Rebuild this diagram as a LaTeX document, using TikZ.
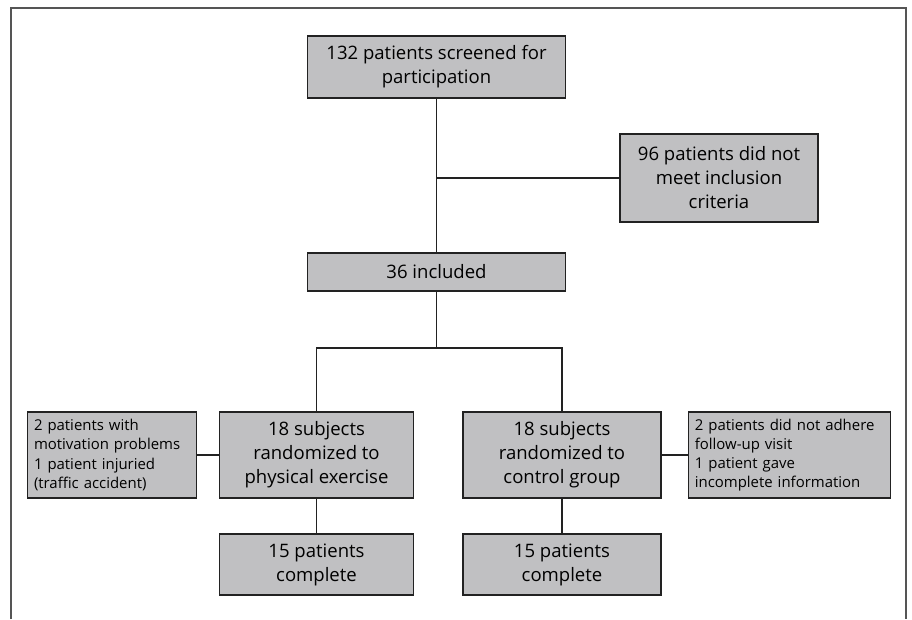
\documentclass[tikz,border=0pt]{standalone}
\usepackage{fontspec}
\setmainfont{Open Sans}
\usetikzlibrary{positioning, calc}
\definecolor{boxfill}{HTML}{C0C0C2}
\definecolor{boxline}{HTML}{222222}
\definecolor{framegray}{HTML}{555555}
\tikzset{
  flowbox/.style={draw=boxline,fill=boxfill,line width=0.9pt,align=center,
    inner sep=0pt,font=\fontsize{13.9}{18}\selectfont},
  notebox/.style={draw=boxline,fill=boxfill,line width=0.9pt,align=left,
    inner sep=0pt,font=\fontsize{11.2}{14.3}\selectfont},
  link/.style={draw=boxline,line width=0.9pt}
}
\begin{document}
\begin{tikzpicture}[x=0.75pt,y=-0.75pt]
\useasboundingbox(0,0)rectangle(912,619);
\draw[framegray,line width=0.8pt](11,619)--(11,8)--(906,8)--(906,619);
% main column
\node[flowbox,minimum width=194pt,minimum height=46.5pt](screen)at(436.5,67){132 patients screened for\\participation};
\node[flowbox,minimum width=148.5pt,minimum height=66pt](excl)at(719,178){96 patients did not\\meet inclusion\\criteria};
\node[flowbox,minimum width=194pt,minimum height=28.5pt](incl)at(436.5,272){36 included};
% two arms
\node[flowbox,minimum width=146pt,minimum height=64.5pt](armA)at(316.5,455){18 subjects\\randomized to\\physical exercise};
\node[flowbox,minimum width=148.5pt,minimum height=64.5pt](armB)at(562,455){18 subjects\\randomized to\\control group};
\node[notebox,minimum height=64.5pt,text width=117pt,inner xsep=5pt](dropA)at(112,455){2 patients with\\motivation problems\\1 patient injuried\\(traffic accident)};
\node[notebox,minimum height=64.5pt,text width=142pt,inner xsep=5pt](dropB)at(789.5,455){2 patients did not adhere\\follow-up visit\\1 patient gave\\incomplete information};
\node[flowbox,minimum width=146pt,minimum height=45.75pt](doneA)at(316.5,564.5){15 patients\\complete};
\node[flowbox,minimum width=148.5pt,minimum height=45.75pt](doneB)at(562,564.5){15 patients\\complete};
% connectors
\coordinate(split)at(436.5,348);
\draw[link](screen.south)--(incl.north);
\draw[link](screen.south|-excl.west)--(excl.west);
\draw[link](incl.south)--(split);
\draw[link](armA.north)|-(split)-|(armB.north);
\draw[link](dropA.east)--(armA.west);
\draw[link](armB.east)--(dropB.west);
\draw[link](armA.south)--(doneA.north);
\draw[link](armB.south)--(doneB.north);
\end{tikzpicture}
\end{document}
